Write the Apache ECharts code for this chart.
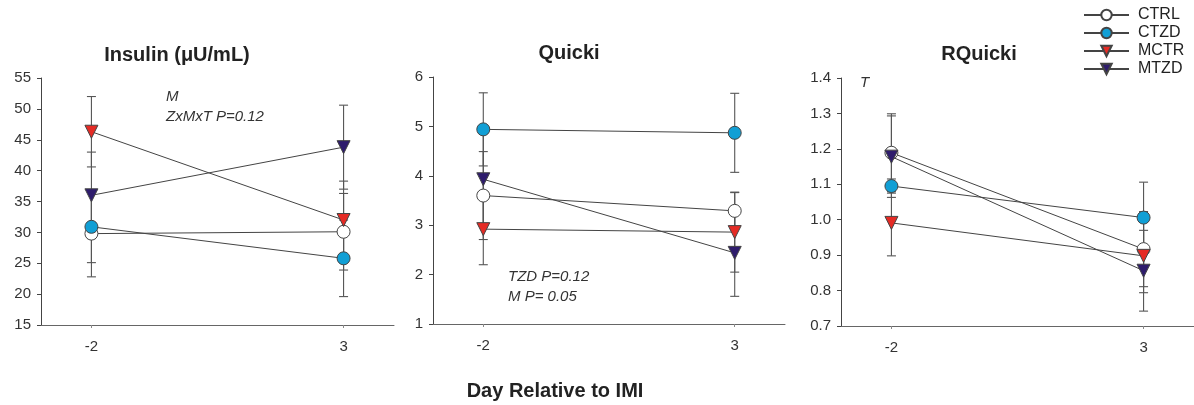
<!DOCTYPE html>
<html>
<head>
<meta charset="utf-8">
<script src="https://cdn.jsdelivr.net/npm/echarts@6/dist/echarts.min.js"></script>
<style>
  html, body { margin: 0; padding: 0; background: #fff; }
  #chart { width: 1194px; height: 405px; }
</style>
</head>
<body>
<div id="chart"></div>
<script>
// x positions (days), only -2 and 3 are labelled
var days = ['-3', '-2', '-1', '0', '1', '2', '3', '4'];
var shownDays = ['-2', '3'];
var groups = ['CTRL', 'CTZD', 'MCTR', 'MTZD'];

// Insulin (uU/mL): means and SE at day -2 and 3
var insulin_ctrl = [29.8, 30.1];
var insulin_ctzd = [30.9, 25.8];
var insulin_mctr = [46.3, 32.0];
var insulin_mtzd = [36.0, 43.8];
var insulin_ctrl_se = [7.0, 6.2];
var insulin_ctzd_se = [5.8, 6.2];
var insulin_mctr_se = [5.7, 6.3];
var insulin_mtzd_se = [7.0, 6.8];

// Quicki
var quicki_ctrl = [3.60, 3.29];
var quicki_ctzd = [4.94, 4.87];
var quicki_mctr = [2.92, 2.86];
var quicki_mtzd = [3.93, 2.44];
var quicki_ctrl_se = [0.89, 0.37];
var quicki_ctzd_se = [0.74, 0.80];
var quicki_mctr_se = [0.72, 0.81];
var quicki_mtzd_se = [0.93, 0.88];

// RQuicki
var rquicki_ctrl = [1.189, 0.917];
var rquicki_ctzd = [1.095, 1.006];
var rquicki_mctr = [0.991, 0.898];
var rquicki_mtzd = [1.178, 0.856];
var rquicki_ctrl_se = [0.110, 0.106];
var rquicki_ctzd_se = [0.020, 0.100];
var rquicki_mctr_se = [0.093, 0.104];
var rquicki_mtzd_se = [0.115, 0.114];

var panelTitles = ['Insulin (\u03bcU/mL)', 'Quicki', 'RQuicki'];

var styles = {
  CTRL: {symbol: 'circle', rotate: 0, color: '#ffffff'},
  CTZD: {symbol: 'circle', rotate: 0, color: '#119fd5'},
  MCTR: {symbol: 'triangle', rotate: 180, color: '#e52b25'},
  MTZD: {symbol: 'triangle', rotate: 180, color: '#2e1c6c'}
};

var panels = [
  {means: [insulin_ctrl, insulin_ctzd, insulin_mctr, insulin_mtzd],
   errs: [insulin_ctrl_se, insulin_ctzd_se, insulin_mctr_se, insulin_mtzd_se],
   min: 15, max: 55, interval: 5, digits: 0},
  {means: [quicki_ctrl, quicki_ctzd, quicki_mctr, quicki_mtzd],
   errs: [quicki_ctrl_se, quicki_ctzd_se, quicki_mctr_se, quicki_mtzd_se],
   min: 1, max: 6, interval: 1, digits: 0},
  {means: [rquicki_ctrl, rquicki_ctzd, rquicki_mctr, rquicki_mtzd],
   errs: [rquicki_ctrl_se, rquicki_ctzd_se, rquicki_mctr_se, rquicki_mtzd_se],
   min: 0.7, max: 1.4, interval: 0.1, digits: 1}
];

var grids = [
  {left: 41, top: 78, width: 353, height: 247},
  {left: 433, top: 77, width: 352, height: 247},
  {left: 841, top: 78, width: 353, height: 248}
];

function errRender(params, api){
  var x = api.value(0);
  var p1 = api.coord([x, api.value(2)]);
  var p2 = api.coord([x, api.value(1)]);
  var w = 4.5;
  var st = {stroke: '#555', lineWidth: 1.1};
  return {type: 'group', children: [
    {type: 'line', shape: {x1: p1[0], y1: p1[1], x2: p2[0], y2: p2[1]}, style: st},
    {type: 'line', shape: {x1: p1[0]-w, y1: p1[1], x2: p1[0]+w, y2: p1[1]}, style: st},
    {type: 'line', shape: {x1: p2[0]-w, y1: p2[1], x2: p2[0]+w, y2: p2[1]}, style: st}
  ]};
}

var xAxes = [], yAxes = [], series_data = [];
for(var p=0;p<panels.length;p++){
  var pn = panels[p];
  xAxes.push({
    type: 'category', gridIndex: p, data: days, boundaryGap: false,
    axisLine: {lineStyle: {color: '#666', width: 1}},
    axisTick: {length: 3, lineStyle: {color: '#888'},
      interval: function(i, v){ return shownDays.indexOf(v) != -1; }},
    axisLabel: {color: '#333', fontSize: 15, fontFamily: 'Liberation Sans', margin: 14,
      interval: function(i, v){ return shownDays.indexOf(v) != -1; }},
    splitLine: {show: false}
  });
  (function(digits){
    yAxes.push({
      type: 'value', gridIndex: p, min: pn.min, max: pn.max, interval: pn.interval,
      axisLine: {show: true, lineStyle: {color: '#444', width: 1}},
      axisTick: {show: true, length: 4, lineStyle: {color: '#444'}},
      axisLabel: {color: '#333', fontSize: 15, fontFamily: 'Liberation Sans', margin: 10,
        formatter: function(v){ return v.toFixed(digits); }},
      splitLine: {show: false}
    });
  })(pn.digits);

  var errData = [];
  for(var g=0;g<groups.length;g++){
    var st = styles[groups[g]];
    var pts = [];
    for(var d=0;d<shownDays.length;d++){
      pts.push([shownDays[d], pn.means[g][d]]);
      errData.push([shownDays[d], pn.means[g][d]-pn.errs[g][d], pn.means[g][d]+pn.errs[g][d]]);
    }
    series_data.push({
      name: groups[g], type: 'line', xAxisIndex: p, yAxisIndex: p,
      data: pts, symbol: st.symbol, symbolRotate: st.rotate, symbolSize: 13,
      lineStyle: {color: '#444', width: 1},
      itemStyle: {color: st.color, borderColor: '#444', borderWidth: 1},
      z: 3, animation: false
    });
  }
  series_data.push({
    type: 'custom', xAxisIndex: p, yAxisIndex: p, data: errData,
    renderItem: errRender, encode: {x: 0, y: [1, 2]}, z: 1, silent: true, animation: false
  });
}

var graphics = [];
var titleX = [177, 569, 979];
var titleY = [55, 53, 54];
for(var t=0;t<panelTitles.length;t++){
  graphics.push({type: 'text', x: titleX[t], y: titleY[t],
    style: {text: panelTitles[t], font: 'bold 20px "Liberation Sans"', fill: '#222',
      textAlign: 'center', textVerticalAlign: 'middle'}});
}
graphics.push({type: 'text', x: 555, y: 391,
  style: {text: 'Day Relative to IMI', font: 'bold 20px "Liberation Sans"', fill: '#222',
    textAlign: 'center', textVerticalAlign: 'middle'}});
var notes = [['M', 166, 97], ['ZxMxT P=0.12', 166, 117], ['TZD P=0.12', 508, 277],
             ['M P= 0.05', 508, 297], ['T', 860, 83]];
for(var n=0;n<notes.length;n++){
  graphics.push({type: 'text', x: notes[n][1], y: notes[n][2],
    style: {text: notes[n][0], font: 'italic 15px "Liberation Sans"', fill: '#333',
      textAlign: 'left', textVerticalAlign: 'middle'}});
}

var myChart = echarts.init(document.getElementById('chart'));
var option = {
  animation: false,
  backgroundColor: '#fff',
  grid: grids,
  xAxis: xAxes,
  yAxis: yAxes,
  legend: {
    data: groups, orient: 'vertical', left: 1078, top: 2, padding: 5,
    itemWidth: 45, itemHeight: 13, itemGap: 2,
    textStyle: {fontSize: 16, color: '#222', fontFamily: 'Liberation Sans', padding: [0, 0, 0, 4]}
  },
  graphic: graphics,
  series: series_data
};
myChart.setOption(option);
</script>
</body>
</html>
